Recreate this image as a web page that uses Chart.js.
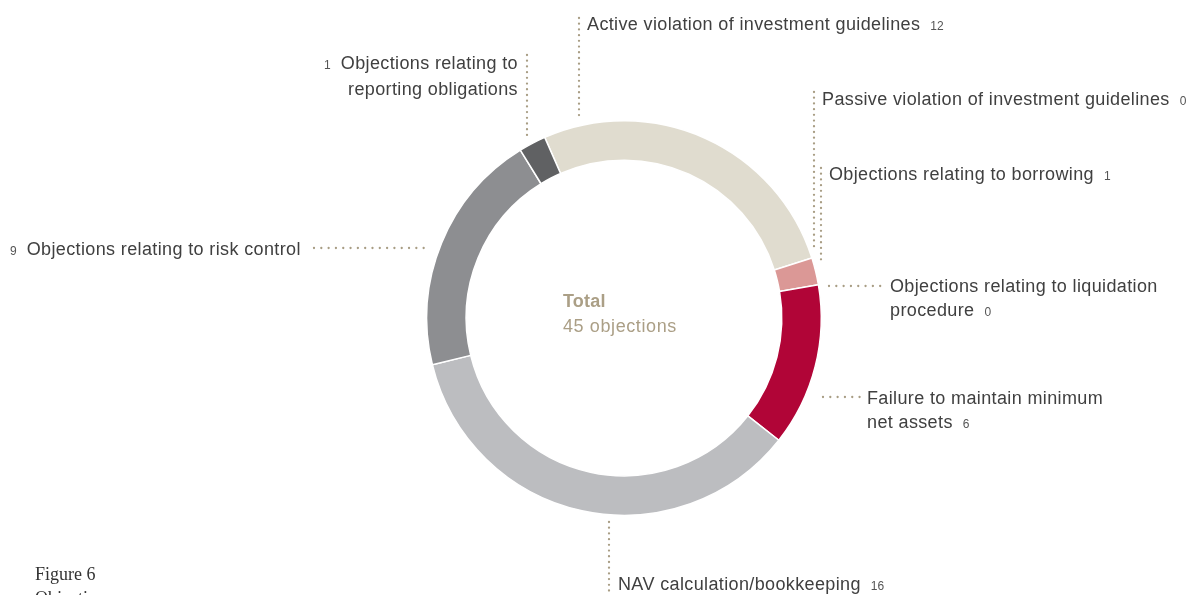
<!DOCTYPE html>
<html>
<head>
<meta charset="utf-8">
<script src="https://cdn.jsdelivr.net/npm/chart.js@4/dist/chart.umd.min.js"></script>
<style>
  html, body { margin: 0; padding: 0; background: #fff; }
  #wrap { position: relative; width: 1195px; height: 595px; overflow: hidden; font-family: "Liberation Sans", Arial, sans-serif; }
  #chart { position: absolute; left: 0; top: 0; }
  .lbl { position: absolute; font-size: 18px; line-height: 24px; color: #404040; white-space: nowrap; letter-spacing: 0.37px; }
  .lbl .n { font-size: 12px; margin: 0 8px 0 10px; letter-spacing: 0; color: #555; }
  .lbl .n.b { margin: 0 10px 0 0; }
  .lbl.right { text-align: right; }
  .center { position: absolute; left: 563px; top: 289px; font-size: 18px; line-height: 25px; color: #ab9f86; letter-spacing: 0.6px; }
  .center b { font-weight: bold; letter-spacing: 0.2px; }
  .fig { position: absolute; left: 35px; top: 562px; font-family: "Liberation Serif", "DejaVu Serif", serif; font-size: 18px; line-height: 24px; color: #333; }
</style>
</head>
<body>
<div id="wrap">
  <canvas id="chart" width="1195" height="595"></canvas>
  <div class="center"><b>Total</b><br><span id="total"></span></div>
  <div class="fig">Figure 6<br>Objections</div>
</div>
<script>
const categories = [
  'Active violation of investment guidelines',
  'Passive violation of investment guidelines',
  'Objections relating to borrowing',
  'Objections relating to liquidation procedure',
  'Failure to maintain minimum net assets',
  'NAV calculation/bookkeeping',
  'Objections relating to risk control',
  'Objections relating to reporting obligations'
];
const values = [12, 0, 1, 0, 6, 16, 9, 1];
const colors = ['#e0dccf', '#c9c2b0', '#db9896', '#c94b5a', '#b10537', '#bcbdc0', '#8d8e91', '#606163'];

// label placement: x/y of first line, words on first line, number before/after
const labelLayout = [
  { x: 587, y: 12, words: 99, num: 'after' },
  { x: 822, y: 87, words: 99, num: 'after' },
  { x: 829, y: 162, words: 99, num: 'after' },
  { x: 890, y: 274, words: 4, num: 'after' },
  { x: 867, y: 386, words: 4, num: 'after' },
  { x: 618, y: 572, words: 99, num: 'after' },
  { x: 10, y: 237, words: 99, num: 'before' },
  { r: 1195 - 518, y: 51, words: 3, num: 'before' }
];
// dotted leader lines [x1, y1, x2, y2, gap]
const leaders = [
  [579, 18, 579, 120, 5.7],
  [814, 92, 814, 250, 5.7],
  [821, 168, 821, 262, 5.7],
  [829, 286, 882, 286, 7.3],
  [823, 397, 860, 397, 7.3],
  [609, 522, 609, 592, 5.7],
  [314, 248, 430, 248, 7.3],
  [527, 55, 527, 138, 5.7]
];

const wrap = document.getElementById('wrap');
const total = values.reduce((a, b) => a + b, 0);
document.getElementById('total').textContent = total + ' objections';

categories.forEach((name, i) => {
  const L = labelLayout[i];
  const words = name.split(' ');
  const line1 = words.slice(0, L.words).join(' ');
  const line2 = words.slice(L.words).join(' ');
  const el = document.createElement('div');
  el.className = 'lbl' + (L.r !== undefined ? ' right' : '');
  let html;
  if (L.num === 'before') {
    html = `<span class="n b">${values[i]}</span>` + line1 + (line2 ? '<br>' + line2 : '');
  } else {
    html = line1 + (line2 ? '<br>' + line2 : '') + `<span class="n">${values[i]}</span>`;
  }
  el.innerHTML = html;
  if (L.r !== undefined) el.style.right = L.r + 'px';
  else el.style.left = L.x + 'px';
  el.style.top = L.y + 'px';
  wrap.appendChild(el);
});

const leaderPlugin = {
  id: 'leaders',
  afterDraw(chart) {
    const ctx = chart.ctx;
    ctx.save();
    ctx.strokeStyle = '#a89d84';
    ctx.lineWidth = 2.3;
    ctx.lineCap = 'round';
    leaders.forEach(([x1, y1, x2, y2, gap]) => {
      ctx.setLineDash([0.01, gap]);
      ctx.beginPath();
      ctx.moveTo(x1, y1);
      ctx.lineTo(x2, y2);
      ctx.stroke();
    });
    ctx.restore();
  }
};

new Chart(document.getElementById('chart'), {
  type: 'doughnut',
  data: {
    labels: categories,
    datasets: [{
      data: values,
      backgroundColor: colors,
      borderColor: '#ffffff',
      borderWidth: 1.5,
      hoverOffset: 0
    }]
  },
  options: {
    responsive: false,
    animation: false,
    rotation: -23.7,
    cutout: '80%',
    layout: { padding: { left: 426, right: 373, top: 120, bottom: 79 } },
    plugins: {
      legend: { display: false },
      tooltip: { enabled: false }
    }
  },
  plugins: [leaderPlugin]
});
</script>
</body>
</html>
